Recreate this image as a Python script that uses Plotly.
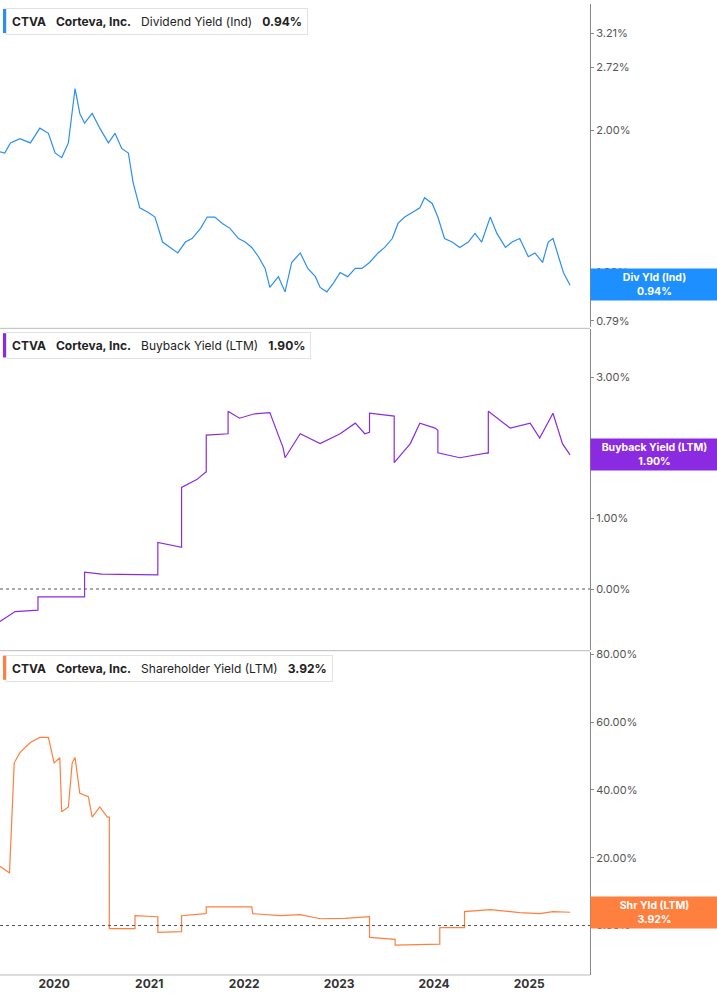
import datetime as dt
import plotly.graph_objects as go
from plotly.subplots import make_subplots

def yr(d):
    y = int(d)
    start = dt.datetime(y, 1, 1)
    return start + (dt.datetime(y + 1, 1, 1) - start) * (d - y)

div_t = [2019.43,2019.48,2019.54,2019.64,2019.75,2019.85,2019.94,2020.01,2020.08,2020.15,2020.22,2020.27,2020.32,2020.40,2020.48,2020.57,2020.64,2020.71,2020.78,2020.83,2020.90,2020.99,2021.06,2021.14,2021.22,2021.30,2021.38,2021.45,2021.54,2021.61,2021.69,2021.77,2021.85,2021.94,2022.01,2022.08,2022.15,2022.22,2022.27,2022.36,2022.43,2022.50,2022.59,2022.67,2022.75,2022.80,2022.87,2022.94,2023.01,2023.09,2023.17,2023.24,2023.32,2023.41,2023.48,2023.56,2023.62,2023.69,2023.77,2023.85,2023.90,2023.98,2024.04,2024.11,2024.19,2024.27,2024.36,2024.43,2024.50,2024.59,2024.66,2024.75,2024.82,2024.90,2024.99,2025.06,2025.14,2025.20,2025.25,2025.30,2025.36,2025.43]
div_v = [1.80,1.79,1.88,1.92,1.88,2.02,1.97,1.79,1.75,1.88,2.45,2.17,2.07,2.17,2.02,1.88,1.97,1.83,1.79,1.55,1.37,1.34,1.31,1.16,1.13,1.10,1.16,1.18,1.24,1.31,1.31,1.27,1.24,1.18,1.16,1.13,1.08,1.02,0.93,0.98,0.91,1.05,1.10,1.02,0.98,0.93,0.91,0.95,1.00,0.98,1.02,1.02,1.05,1.10,1.13,1.18,1.27,1.31,1.34,1.37,1.44,1.40,1.31,1.18,1.16,1.13,1.16,1.21,1.16,1.31,1.21,1.13,1.16,1.18,1.08,1.10,1.05,1.16,1.18,1.10,1.00,0.94]

bb_t = [2019.43,2019.59,2019.83,2019.83,2020.32,2020.32,2020.50,2021.06,2021.09,2021.09,2021.32,2021.34,2021.34,2021.50,2021.59,2021.60,2021.60,2021.83,2021.83,2021.95,2022.10,2022.27,2022.41,2022.43,2022.59,2022.80,2023.01,2023.17,2023.27,2023.32,2023.32,2023.57,2023.58,2023.58,2023.75,2023.85,2024.01,2024.04,2024.04,2024.27,2024.56,2024.57,2024.57,2024.80,2025.01,2025.11,2025.25,2025.35,2025.43]
bb_v = [-0.46,-0.32,-0.30,-0.11,-0.11,0.24,0.21,0.21,0.20,0.66,0.60,0.59,1.44,1.55,1.65,1.66,2.18,2.20,2.52,2.42,2.48,2.50,2.00,1.86,2.20,2.06,2.20,2.35,2.20,2.22,2.49,2.46,2.45,1.79,2.06,2.35,2.28,2.25,1.93,1.86,1.93,1.92,2.52,2.28,2.35,2.14,2.49,2.06,1.90]

sh_t = [2019.43,2019.50,2019.53,2019.58,2019.64,2019.75,2019.85,2019.94,2020.00,2020.06,2020.08,2020.15,2020.19,2020.22,2020.27,2020.36,2020.40,2020.48,2020.56,2020.58,2020.58,2020.85,2020.85,2021.09,2021.09,2021.34,2021.34,2021.59,2021.60,2021.60,2022.08,2022.09,2022.38,2022.59,2022.80,2023.06,2023.32,2023.32,2023.58,2023.59,2023.59,2024.06,2024.06,2024.32,2024.32,2024.59,2024.90,2025.11,2025.25,2025.43]
sh_v = [17.5,16.0,15.5,48.0,51.0,54.0,55.5,55.5,48.0,49.5,33.6,35.0,48.0,49.6,39.0,38.0,32.0,35.0,32.0,32.0,-0.9,-0.9,2.9,2.6,-2.0,-1.8,2.9,3.5,3.6,5.5,5.5,3.5,2.9,3.2,2.0,2.1,2.6,-3.5,-4.1,-4.1,-5.8,-5.5,-0.6,-0.6,4.1,4.7,3.8,3.5,4.1,3.92]

years = [2020, 2021, 2022, 2023, 2024, 2025]

BLUE, PURPLE, ORANGE = "#2b8ff0", "#8a2be2", "#ff7f3f"

fig = make_subplots(rows=3, cols=1, shared_xaxes=True, vertical_spacing=0.0)
fig.add_trace(go.Scatter(x=[yr(t) for t in div_t], y=div_v, mode="lines", line=dict(color=BLUE, width=1.2)), 1, 1)
fig.add_trace(go.Scatter(x=[yr(t) for t in bb_t], y=bb_v, mode="lines", line=dict(color=PURPLE, width=1.2)), 2, 1)
fig.add_trace(go.Scatter(x=[yr(t) for t in sh_t], y=sh_v, mode="lines", line=dict(color=ORANGE, width=1.2)), 3, 1)

ax = dict(side="right", showgrid=False, zeroline=False, showline=True, linecolor="#888", linewidth=1,
          ticks="outside", ticklen=3, tickcolor="#888", tickfont=dict(family="Inter", size=11, color="#555"))
fig.update_layout(
    width=717, height=1005, margin=dict(l=0, r=127, t=0, b=30), showlegend=False,
    plot_bgcolor="white", paper_bgcolor="white",
    yaxis=dict(ax, domain=[0.667, 1], type="log", range=[-0.116, 0.568],
               tickvals=[0.79, 1, 2, 2.72, 3.21], ticktext=["0.79%", "1.00%", "2.00%", "2.72%", "3.21%"]),
    yaxis2=dict(ax, domain=[0.335, 0.665], range=[-0.86, 3.68], tickvals=[0, 1, 3],
                ticktext=["0.00%", "1.00%", "3.00%"]),
    yaxis3=dict(ax, domain=[0, 0.333], range=[-14.6, 80.8], tickvals=[0, 20, 40, 60, 80],
                ticktext=["0.00%", "20.00%", "40.00%", "60.00%", "80.00%"]),
)
xr = [yr(2019.43), yr(2025.64)]
for i in (1, 2, 3):
    fig.update_xaxes(range=xr, showgrid=False, zeroline=False, showline=False, row=i, col=1)
fig.update_xaxes(tickvals=[dt.datetime(y, 1, 1) for y in years], ticktext=[f"<b>{y}</b>" for y in years],
                 tickfont=dict(family="Inter", size=12, color="#333"), ticks="", row=3, col=1)

for yp in (0.666, 0.334):
    fig.add_shape(type="line", xref="paper", yref="paper", x0=0, x1=1, y0=yp, y1=yp, line=dict(color="#bbb", width=1))
fig.add_shape(type="line", xref="paper", yref="paper", x0=0, x1=1, y0=0, y1=0, line=dict(color="#bbb", width=1))
fig.add_shape(type="line", xref="x2 domain", yref="y2", x0=0, x1=1, y0=0, y1=0, line=dict(color="#555", width=1, dash="dot"))
fig.add_shape(type="line", xref="x3 domain", yref="y3", x0=0, x1=1, y0=0, y1=0, line=dict(color="#555", width=1, dash="dot"))

panels = [
    ("Dividend Yield (Ind)", "0.94%", BLUE, 0.996, "y", -0.0263, "Div Yld (Ind)"),
    ("Buyback Yield (LTM)", "1.90%", PURPLE, 0.662, "y2", 1.90, "Buyback Yield (LTM)"),
    ("Shareholder Yield (LTM)", "3.92%", ORANGE, 0.330, "y3", 3.92, "Shr Yld (LTM)"),
]
for name, val, col, ytop, yref, ypos, short in panels:
    fig.add_annotation(xref="paper", yref="paper", x=0.0105, y=ytop, xanchor="left", yanchor="top", showarrow=False,
                       text=f"<b>CTVA</b>   <b>Corteva, Inc.</b>   {name}   <b>{val}</b>",
                       font=dict(family="Inter", size=12, color="#222"), bgcolor="white",
                       bordercolor="#e2e2e2", borderwidth=1, borderpad=5)
    fig.add_shape(type="rect", xref="paper", yref="paper", x0=0.005, x1=0.011, y0=ytop - 0.026, y1=ytop - 0.001,
                  fillcolor=col, line=dict(width=0))
    fig.add_annotation(xref="paper", yref=yref, x=1.0, y=ypos,
                       xanchor="left", yanchor="middle", showarrow=False, width=123, align="center",
                       text=f"<b>{short}<br>{val}</b>", font=dict(family="Inter", size=10.5, color="white"),
                       bgcolor=col if col != BLUE else "#1e8fff", borderpad=2)

fig.write_html("out.html", config={"displayModeBar": False},
               post_script="document.body.style.margin='0';window.dispatchEvent(new Event('resize'));")
